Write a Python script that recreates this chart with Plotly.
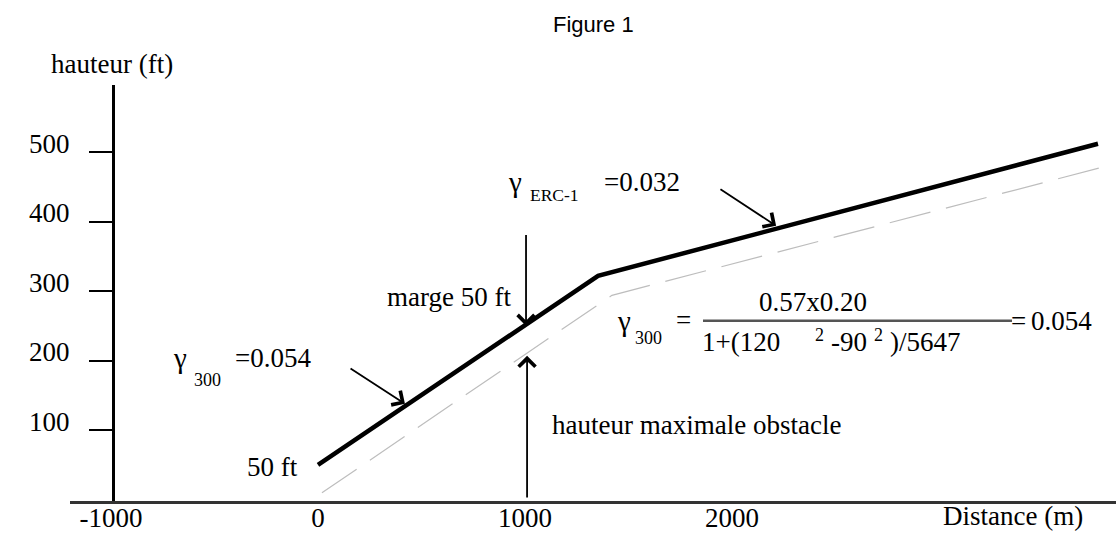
import plotly.graph_objects as go

W, H = 1116, 533

# ---- data (diagram units: x in m, y in ft) ----
climb_x = [0, 1353, 3768]          # solid climb profile
climb_y = [50, 322, 512]
obst_x = [19, 1420, 3773]           # dashed max obstacle height
obst_y = [10, 294, 477]

x_ticks = [-1000, 0, 1000, 2000]
y_ticks = [100, 200, 300, 400, 500]

# arrows: (tail_x, tail_y, tip_x, tip_y)
arrow_g300 = (150, 190, 420, 138)
arrow_marge = (1005, 383, 1005, 250)
arrow_erc = (1937, 448, 2213, 394)
arrow_obst = (1010, 1, 1010, 207)

SERIF = "Liberation Serif, Times New Roman, serif"
SANS = "Liberation Sans, Arial, sans-serif"


def px(x):
    return x / W


def py(y):
    return 1 - y / H


fig = go.Figure()
fig.add_trace(go.Scatter(x=obst_x, y=obst_y, mode="lines",
                         line=dict(color="#bdbdbd", width=1.2, dash="42px,16px"),
                         hoverinfo="skip", showlegend=False))
fig.add_trace(go.Scatter(x=climb_x, y=climb_y, mode="lines",
                         line=dict(color="black", width=4.5),
                         hoverinfo="skip", showlegend=False))

annotations = []
for tx, ty, hx, hy in [arrow_g300, arrow_marge, arrow_erc, arrow_obst]:
    annotations.append(dict(x=hx, y=hy, ax=tx, ay=ty, xref="x", yref="y",
                            axref="x", ayref="y", text="", showarrow=True,
                            arrowhead=4, arrowsize=1.8, arrowwidth=1.8,
                            arrowcolor="black", standoff=0, startstandoff=0))

texts = [
    ("Figure 1", 593, 25, 22, SANS),
    ("hauteur (ft)", 112, 64, 27, SERIF),
    ("γ", 180, 359, 29, SERIF),
    ("300", 207, 381, 18, SERIF),
    ("=0.054", 273, 359, 27, SERIF),
    ("50 ft", 272, 469, 27, SERIF),
    ("marge 50 ft", 449, 298, 27, SERIF),
    ("γ", 515, 183, 29, SERIF),
    ("ERC-1", 554, 196, 17.5, SERIF),
    ("=0.032", 642, 183, 27, SERIF),
    ("hauteur maximale obstacle", 696, 427, 27, SERIF),
    ("γ", 624, 322, 29, SERIF),
    ("300", 648, 339, 18, SERIF),
    ("=", 683, 321, 27, SERIF),
    ("0.57x0.20", 813, 303, 27, SERIF),
    ("1+(120", 741, 343, 27, SERIF),
    ("2", 819, 336, 18, SERIF),
    ("-90", 849, 343, 27, SERIF),
    ("2", 878, 336, 18, SERIF),
    (")/5647", 925, 343, 27, SERIF),
    ("=", 1018, 322, 27, SERIF),
    ("0.054", 1061, 322, 27, SERIF),
]
for t, x, y, s, f in texts:
    annotations.append(dict(x=px(x), y=py(y), xref="paper", yref="paper",
                            text=t, showarrow=False, xanchor="center",
                            yanchor="middle", font=dict(family=f, size=s, color="black")))

# axis title placed at the right end, just touching the bottom edge
annotations.append(dict(x=px(1013), y=0, xref="paper", yref="paper",
                        text="Distance (m)", showarrow=False, xanchor="center",
                        yanchor="bottom", yshift=-2,
                        font=dict(family=SERIF, size=27, color="black")))

shapes = [dict(type="line", xref="paper", yref="paper",
               x0=px(703), x1=px(1012), y0=py(322), y1=py(322),
               line=dict(color="#555", width=2.5))]

fig.update_layout(
    width=W, height=H, autosize=False,
    margin=dict(l=0, r=0, t=0, b=0),
    paper_bgcolor="white", plot_bgcolor="white",
    showlegend=False,
    annotations=annotations,
    shapes=shapes,
    xaxis=dict(domain=[70 / W, 1], range=[-1198, 3855],
               showgrid=False, zeroline=False, showline=True,
               linecolor="#333", linewidth=2.5, ticks="",
               tickvals=x_ticks, ticktext=[str(v) for v in x_ticks],
               ticklabelstandoff=-9,
               tickfont=dict(family=SERIF, size=27, color="black")),
    yaxis=dict(domain=[(H - 503) / H, (H - 85) / H], range=[-2, 597],
               anchor="free", position=113 / W,
               showgrid=False, zeroline=False, showline=True,
               linecolor="black", linewidth=3,
               ticks="outside", ticklen=23, tickwidth=2, tickcolor="black",
               tickvals=y_ticks, ticktext=[str(v) for v in y_ticks],
               ticklabelshift=-9, ticklabelstandoff=14,
               tickfont=dict(family=SERIF, size=27, color="black")),
)

fig.write_html("out.html",
               config={"displayModeBar": False, "responsive": False},
               post_script="document.body.style.margin='0';document.body.style.overflow='hidden';")
